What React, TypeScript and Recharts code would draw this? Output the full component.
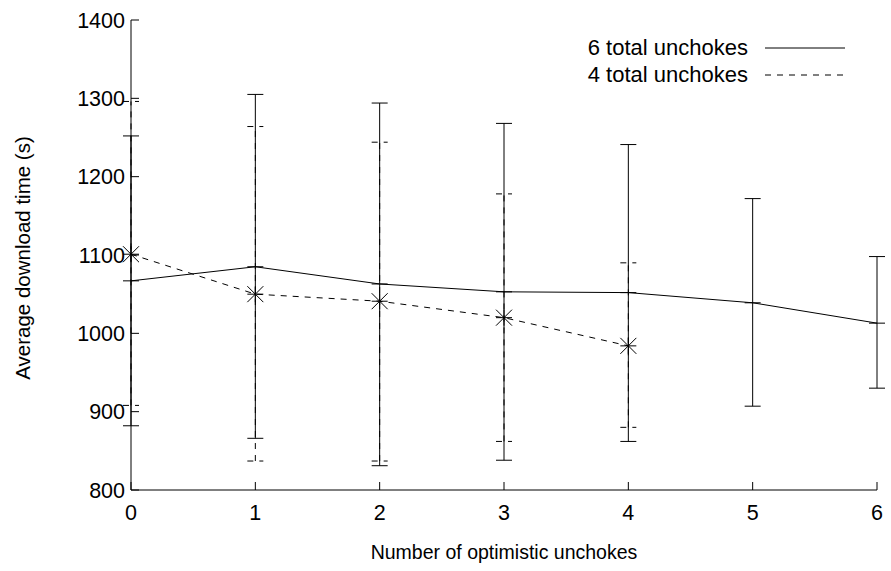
import React from 'react';
import {
  ComposedChart,
  Line,
  XAxis,
  YAxis,
  ErrorBar,
  Legend,
} from 'recharts';

const FONT = '"Liberation Sans", Arial, Helvetica, sans-serif';

// optimistic unchokes on the x axis
const unchokes = [0, 1, 2, 3, 4, 5, 6];

// 6 total unchokes: mean and min/max download time (s)
const sixMean = [1067, 1085, 1063, 1053, 1052, 1039, 1013];
const sixLow = [882, 866, 831, 838, 862, 907, 930];
const sixHigh = [1252, 1305, 1294, 1268, 1241, 1172, 1098];

// 4 total unchokes: only measured up to 4 optimistic
const fourMean = [1101, 1050, 1041, 1020, 984];
const fourLow = [908, 837, 837, 862, 880];
const fourHigh = [1296, 1264, 1244, 1178, 1090];

const xTicks = [0, 1, 2, 3, 4, 5, 6];
const yTicks = [800, 900, 1000, 1100, 1200, 1300, 1400];

const sixData = unchokes.map((x, i) => ({
  x,
  y: sixMean[i],
  err: [sixMean[i] - sixLow[i], sixHigh[i] - sixMean[i]],
}));

const fourData = fourMean.map((m, i) => ({
  x: unchokes[i],
  y: m,
  err: [m - fourLow[i], fourHigh[i] - m],
}));

const DASH = '6 6';
const TICK_FONT = 21.5;
const TITLE_FONT = 20;

// mean marker: short horizontal stroke
function BarDot({ cx, cy }: any) {
  if (cx == null || cy == null) return <g />;
  return <line x1={cx - 8} x2={cx + 8} y1={cy} y2={cy} stroke="#000" strokeWidth={1} />;
}

// asterisk marker (plus + cross)
function StarDot({ cx, cy }: any) {
  if (cx == null || cy == null) return <g />;
  const r = 8;
  return (
    <g stroke="#000" strokeWidth={1}>
      <line x1={cx - r} x2={cx + r} y1={cy} y2={cy} />
      <line x1={cx} x2={cx} y1={cy - r} y2={cy + r} />
      <line x1={cx - r} x2={cx + r} y1={cy - r} y2={cy + r} />
      <line x1={cx - r} x2={cx + r} y1={cy + r} y2={cy - r} />
    </g>
  );
}

function KeyBox() {
  const rows = [
    { name: '6 total unchokes', dash: undefined },
    { name: '4 total unchokes', dash: DASH },
  ];
  return (
    <div style={{ fontFamily: FONT, fontSize: 22, color: '#000' }}>
      {rows.map((r) => (
        <div key={r.name} style={{ display: 'flex', alignItems: 'center', height: 27 }}>
          <span style={{ width: 190, textAlign: 'right', lineHeight: '27px', whiteSpace: 'nowrap' }}>
            {r.name}
          </span>
          <svg width={97} height={10} style={{ display: 'block' }}>
            <line x1={17} x2={97} y1={5} y2={5} stroke="#000" strokeWidth={1} strokeDasharray={r.dash} />
          </svg>
        </div>
      ))}
    </div>
  );
}

function YTitle({ viewBox }: any) {
  const cx = 22;
  const cy = viewBox.y + viewBox.height / 2 + 3;
  return (
    <text
      x={cx}
      y={cy}
      transform={`rotate(-90 ${cx} ${cy})`}
      textAnchor="middle"
      dominantBaseline="central"
      fontFamily={FONT}
      fontSize={20.5}
      fill="#000"
    >
      Average download time (s)
    </text>
  );
}

function XTitle({ viewBox }: any) {
  const cx = viewBox.x + viewBox.width / 2;
  return (
    <text
      x={cx}
      y={viewBox.y + 62}
      textAnchor="middle"
      dominantBaseline="central"
      fontFamily={FONT}
      fontSize={TITLE_FONT - 0.5}
      fill="#000"
    >
      Number of optimistic unchokes
    </text>
  );
}

const tickStyle = { fontSize: TICK_FONT, fill: '#000', fontFamily: FONT };

export default function App() {
  return (
    <div style={{ position: 'absolute', left: 0, top: 0, background: '#fff' }}>
      <ComposedChart width={891} height={571} margin={{ top: 20, right: 14, bottom: 21, left: 71 }}>
        <XAxis
          dataKey="x"
          type="number"
          domain={[0, 6]}
          ticks={xTicks}
          height={60}
          tick={tickStyle}
          tickSize={-8}
          tickMargin={23}
          stroke="#000"
          tickLine={{ stroke: '#000' }}
          label={<XTitle />}
        />
        <XAxis
          xAxisId="top"
          orientation="top"
          type="number"
          domain={[0, 6]}
          height={0}
          tick={false}
          tickLine={false}
          stroke="#000"
        />
        <YAxis
          type="number"
          domain={[800, 1400]}
          ticks={yTicks}
          width={60}
          tick={tickStyle}
          tickSize={-8}
          tickMargin={14}
          stroke="#000"
          tickLine={{ stroke: '#000' }}
          label={<YTitle />}
        />
        <YAxis
          yAxisId="right"
          orientation="right"
          type="number"
          domain={[800, 1400]}
          width={0}
          tick={false}
          tickLine={false}
          stroke="#000"
        />
        <Legend
          layout="horizontal"
          verticalAlign="middle"
          align="center"
          content={<KeyBox />}
          wrapperStyle={{ position: 'absolute', left: 558, top: 34, width: 290 }}
        />
        <Line
          data={sixData}
          dataKey="y"
          name="6 total unchokes"
          type="linear"
          stroke="#000"
          strokeWidth={1}
          dot={<BarDot />}
          activeDot={false}
          isAnimationActive={false}
        >
          <ErrorBar dataKey="err" direction="y" width={8} stroke="#000" strokeWidth={1} />
        </Line>
        <Line
          data={fourData}
          dataKey="y"
          name="4 total unchokes"
          type="linear"
          stroke="#000"
          strokeWidth={1}
          strokeDasharray={DASH}
          dot={<StarDot />}
          activeDot={false}
          isAnimationActive={false}
        >
          <ErrorBar
            dataKey="err"
            direction="y"
            width={8}
            stroke="#000"
            strokeWidth={1}
            strokeDasharray={DASH}
          />
        </Line>
      </ComposedChart>
    </div>
  );
}
